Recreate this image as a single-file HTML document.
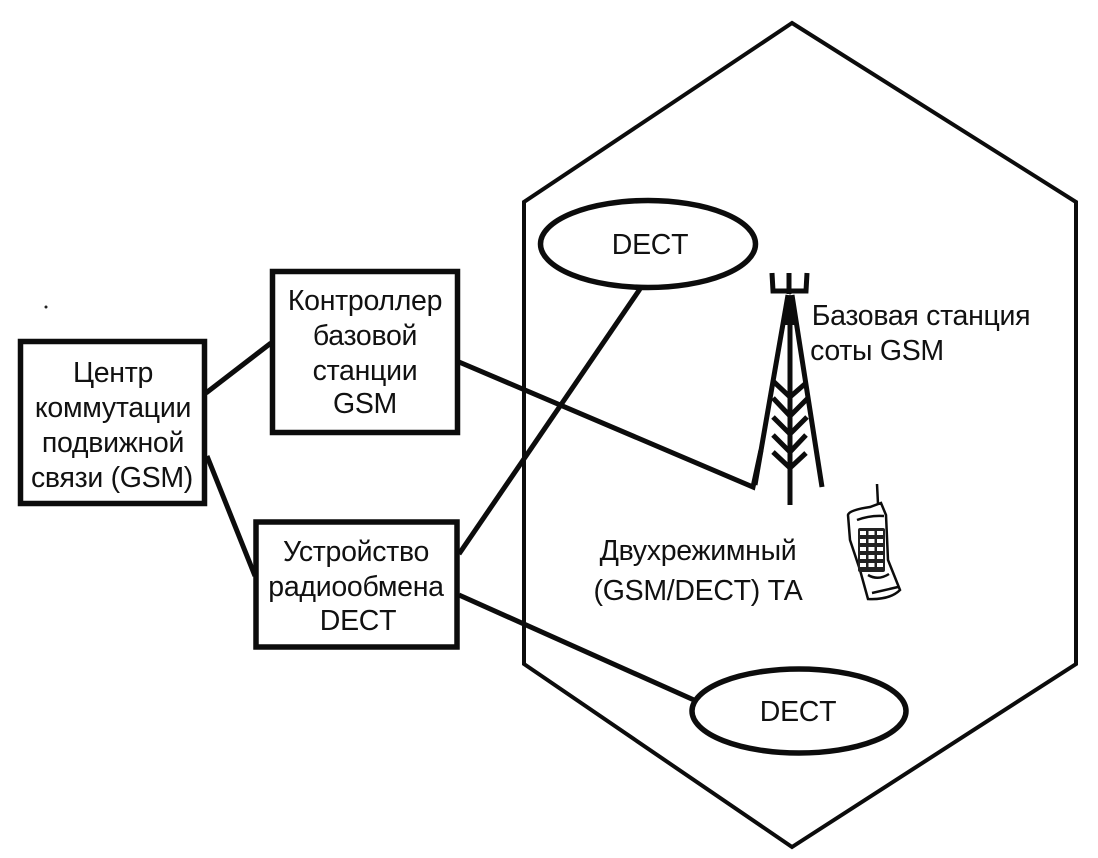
<!DOCTYPE html>
<html><head><meta charset="utf-8"><style>html,body{margin:0;padding:0;background:#fff}svg{display:block}text{font-family:"Liberation Sans",sans-serif;font-size:28.500px;letter-spacing:-0.3px;fill:#111;text-anchor:middle}</style></head>
<body><svg width="1098" height="858" viewBox="0 0 1098 858" xmlns="http://www.w3.org/2000/svg">
<rect width="1098" height="858" fill="#fff"/>
<g fill="none" stroke="#0c0c0c" stroke-linejoin="miter">
<polygon points="792,23 1076,202 1076,664 792,847 524,664 524,202" stroke-width="4"/>
<rect x="20.500" y="341.500" width="184" height="162" stroke-width="5.500"/>
<rect x="272.500" y="271.500" width="185" height="161" stroke-width="5.500"/>
<rect x="256" y="522" width="201" height="125" stroke-width="5.500"/>
<g stroke-width="5">
<line x1="206" y1="393" x2="271" y2="343"/>
<line x1="207" y1="456" x2="255" y2="576"/>
<polyline points="459,362 753,487 761,450"/>
<line x1="459" y1="554" x2="640" y2="289"/>
<line x1="459" y1="595" x2="694" y2="700"/>
</g>
<ellipse cx="648" cy="244" rx="107.500" ry="43.500" fill="#fff" stroke-width="5.500"/>
<ellipse cx="799" cy="711" rx="107" ry="42" fill="#fff" stroke-width="5.500"/>
<g stroke-width="5">
<polyline points="772,273 773,291 806,291 807,273"/>
<line x1="789" y1="273" x2="789" y2="294"/>
<line x1="788" y1="295" x2="755" y2="485"/>
<line x1="792" y1="295" x2="822" y2="487"/>
<line x1="790" y1="296" x2="790" y2="505"/>
<polyline points="773,381 790,397 806,383"/>
<polyline points="773,398 790,416 808,398"/>
<polyline points="773,417 790,434 807,417"/>
<polyline points="773,435 790,452 806,435"/>
<polyline points="773,452 790,468 806,453"/>
</g>
<polygon points="790,293 783,325 797,325" fill="#0c0c0c" stroke="none"/>
<g stroke-width="2.500">
<path d="M848,515 Q849,510 870,507 L881,503 L886,515 L888,560 L900,590 Q890,600 868,599 L860,570 L850,540 Z" fill="#fff"/>
<line x1="877" y1="484" x2="878" y2="504"/>
<path d="M857,520 Q870,515 884,516"/>
<path d="M868,575 Q878,581 889,574"/>
<path d="M872,593 L898,587"/>
</g>
<rect x="858" y="528" width="27" height="44" rx="2" fill="#222" stroke="none"/>
<g fill="#fff" stroke="none">
<rect x="860" y="531" width="6" height="4"/><rect x="868.500" y="531" width="6" height="4"/><rect x="877" y="531" width="6" height="4"/>
<rect x="860" y="539" width="6" height="4"/><rect x="868.500" y="539" width="6" height="4"/><rect x="877" y="539" width="6" height="4"/>
<rect x="860" y="547" width="6" height="4"/><rect x="868.500" y="547" width="6" height="4"/><rect x="877" y="547" width="6" height="4"/>
<rect x="860" y="555" width="6" height="4"/><rect x="868.500" y="555" width="6" height="4"/><rect x="877" y="555" width="6" height="4"/>
<rect x="860" y="563" width="6" height="4"/><rect x="868.500" y="563" width="6" height="4"/><rect x="877" y="563" width="6" height="4"/>
</g>
</g>
<circle cx="46" cy="307" r="1.500" fill="#222"/>
<text x="113" y="382">Центр</text>
<text x="113" y="417">коммутации</text>
<text x="113" y="452">подвижной</text>
<text x="112" y="487">связи (GSM)</text>
<text x="365" y="310">Контроллер</text>
<text x="365" y="345">базовой</text>
<text x="365" y="380">станции</text>
<text x="365" y="413">GSM</text>
<text x="356" y="561">Устройство</text>
<text x="356" y="596">радиообмена</text>
<text x="358" y="630">DECT</text>
<text x="650" y="254">DECT</text>
<text x="798" y="721">DECT</text>
<text x="921" y="325">Базовая станция</text>
<text x="877" y="360">соты GSM</text>
<text x="698" y="560">Двухрежимный</text>
<text x="698" y="600">(GSM/DECT) ТА</text>
</svg></body></html>
